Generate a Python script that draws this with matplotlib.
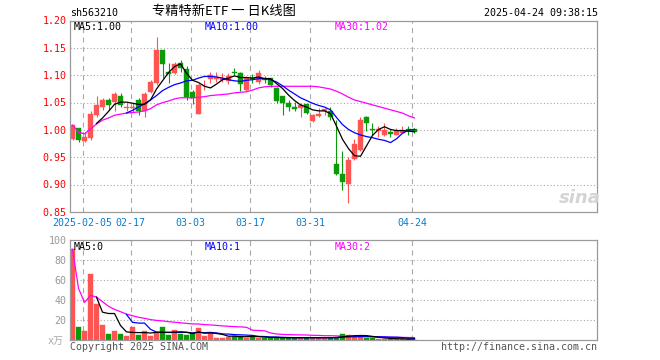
import matplotlib
matplotlib.use('Agg')
import matplotlib.pyplot as plt
import numpy as np

# ---------------- data ----------------
dates = ['01-24', '01-27',
         '02-05', '02-06', '02-07', '02-10', '02-11', '02-12', '02-13', '02-14',
         '02-17', '02-18', '02-19', '02-20', '02-21', '02-24', '02-25', '02-26', '02-27', '02-28',
         '03-03', '03-04', '03-05', '03-06', '03-07', '03-10', '03-11', '03-12', '03-13', '03-14',
         '03-17', '03-18', '03-19', '03-20', '03-21', '03-24', '03-25', '03-26', '03-27', '03-28',
         '03-31', '04-01', '04-02', '04-03', '04-07', '04-08', '04-09', '04-10', '04-11',
         '04-14', '04-15', '04-16', '04-17', '04-18', '04-21', '04-22', '04-23', '04-24']

open_ = [0.983, 1.003, 0.980, 0.986, 1.027, 1.043, 1.055, 1.052, 1.062, 1.041,
         1.041, 1.055, 1.034, 1.070, 1.086, 1.147, 1.107, 1.105, 1.122, 1.111,
         1.070, 1.030, 1.082, 1.093, 1.094, 1.091, 1.089, 1.106, 1.104, 1.073,
         1.096, 1.087, 1.095, 1.095, 1.077, 1.062, 1.049, 1.043, 1.040, 1.048,
         1.017, 1.026, 1.034, 1.034, 0.937, 0.920, 0.901, 0.947, 0.963,
         1.023, 1.001, 0.999, 0.991, 0.997, 0.990, 0.994, 1.001, 1.002]
high_ = [1.010, 1.004, 0.997, 1.035, 1.062, 1.058, 1.058, 1.070, 1.067, 1.049,
         1.050, 1.058, 1.070, 1.091, 1.171, 1.147, 1.122, 1.124, 1.128, 1.117,
         1.073, 1.086, 1.092, 1.107, 1.107, 1.105, 1.105, 1.113, 1.106, 1.098,
         1.102, 1.110, 1.099, 1.096, 1.078, 1.063, 1.055, 1.051, 1.049, 1.048,
         1.030, 1.040, 1.040, 1.042, 1.019, 0.961, 0.951, 0.983, 1.023,
         1.025, 1.012, 1.007, 1.012, 1.000, 1.004, 1.008, 1.008, 1.003]
low_ = [0.981, 0.978, 0.978, 0.982, 1.023, 1.037, 1.037, 1.035, 1.042, 1.035,
        1.033, 1.028, 1.024, 1.067, 1.083, 1.095, 1.086, 1.103, 1.107, 1.055,
        1.048, 1.029, 1.073, 1.086, 1.087, 1.087, 1.085, 1.101, 1.072, 1.071,
        1.086, 1.085, 1.086, 1.078, 1.050, 1.027, 1.034, 1.034, 1.024, 1.029,
        1.014, 1.023, 1.028, 1.018, 0.917, 0.890, 0.866, 0.946, 0.962,
        0.998, 0.990, 0.988, 0.989, 0.987, 0.990, 0.994, 0.991, 0.994]
close_ = [1.009, 0.982, 0.988, 1.029, 1.046, 1.055, 1.046, 1.066, 1.046, 1.042,
          1.042, 1.034, 1.066, 1.0875, 1.147, 1.121, 1.103, 1.121, 1.113, 1.061,
          1.058, 1.083, 1.083, 1.101, 1.097, 1.096, 1.098, 1.105, 1.084, 1.095,
          1.094, 1.105, 1.092, 1.083, 1.053, 1.050, 1.043, 1.0385, 1.046, 1.032,
          1.0275, 1.029, 1.038, 1.023, 0.919, 0.905, 0.945, 0.974, 1.018,
          1.012, 1.000, 1.001, 1.000, 0.993, 0.999, 1.000, 0.999, 0.996]

ma5 = [None, None, None, None, 1.012, 1.022, 1.034, 1.047, 1.051, 1.051,
       1.049, 1.047, 1.047, 1.055, 1.075, 1.090, 1.105, 1.116, 1.121, 1.104,
       1.091, 1.087, 1.080, 1.077, 1.084, 1.092, 1.095, 1.099, 1.096, 1.096,
       1.095, 1.097, 1.094, 1.094, 1.085, 1.076, 1.064, 1.054, 1.046, 1.042,
       1.037, 1.035, 1.035, 1.030, 1.007, 0.983, 0.966, 0.953, 0.952,
       0.971, 0.990, 1.001, 1.006, 1.001, 0.999, 0.999, 0.998, 0.997]
ma10 = [None, None, None, None, None, None, None, None, None, 1.031,
        1.036, 1.042, 1.048, 1.055, 1.063, 1.072, 1.078, 1.083, 1.086, 1.090,
        1.091, 1.095, 1.098, 1.098, 1.097, 1.095, 1.092, 1.090, 1.089, 1.091,
        1.092, 1.094, 1.094, 1.092, 1.088, 1.081, 1.073, 1.066, 1.059, 1.054,
        1.049, 1.045, 1.042, 1.037, 1.023, 1.010, 1.001, 0.995, 0.991,
        0.988, 0.986, 0.983, 0.981, 0.977, 0.984, 0.994, 1.000, 1.001]
ma30 = [1.009, 0.996, 0.993, 1.002, 1.011, 1.018, 1.022, 1.027, 1.029, 1.031,
        1.032, 1.033, 1.035, 1.039, 1.046, 1.050, 1.053, 1.057, 1.059, 1.059,
        1.059, 1.060, 1.061, 1.063, 1.064, 1.065, 1.066, 1.068, 1.069, 1.070,
        1.073, 1.077, 1.079, 1.080, 1.080, 1.080, 1.080, 1.080, 1.080, 1.080,
        1.080, 1.079, 1.077, 1.075, 1.071, 1.066, 1.060, 1.055, 1.052,
        1.049, 1.046, 1.043, 1.040, 1.037, 1.034, 1.031, 1.026, 1.022]

volume = [90.7, 12.7, 9.3, 66, 36, 15, 6, 9.3, 6, 4,
          12.7, 5, 9.3, 4, 7.3, 12.7, 5, 10, 6, 5,
          6.7, 12.3, 4, 7.3, 2.3, 2.3, 3.3, 4.3, 4.3, 2.3,
          4, 2.3, 2.3, 2.3, 2.3, 2.3, 2.3, 2.3, 2.3, 2.3,
          2.3, 2.3, 2.3, 2.3, 3, 6, 5.5, 4.5, 3.5,
          2.5, 1.8, 1.5, 1.3, 1.0, 1.1, 0.9, 0.8, 0.5]
vol_ma5 = [None, None, None, None, 42.9, 27.8, 26.5, 26.5, 14.5, 8.1,
           7.6, 7.4, 7.4, 7.0, 7.7, 7.7, 7.7, 7.8, 8.2, 7.7,
           6.5, 8.0, 6.8, 7.1, 6.5, 5.6, 3.8, 3.9, 3.3, 3.3,
           3.6, 3.4, 3.0, 2.6, 2.6, 2.3, 2.3, 2.3, 2.3, 2.3,
           2.3, 2.3, 2.3, 2.3, 2.4, 3.2, 3.8, 4.3, 4.5,
           4.4, 3.6, 2.8, 2.1, 1.6, 1.3, 1.2, 1.0, 0.9]
vol_ma10 = [None, None, None, None, None, None, None, None, None, 25.5,
            17.7, 16.9, 16.9, 10.7, 7.9, 7.6, 7.5, 7.6, 7.6, 7.7,
            7.1, 7.8, 7.3, 7.6, 7.1, 6.1, 5.9, 5.4, 5.2, 4.9,
            4.6, 3.6, 3.5, 3.0, 3.0, 2.7, 2.5, 2.3, 2.3, 2.3,
            2.3, 2.3, 2.3, 2.3, 2.4, 2.8, 3.1, 3.3, 3.4,
            3.4, 3.3, 3.2, 3.1, 2.9, 2.8, 2.4, 2.0, 1.5]
vol_ma30 = [90.7, 51.7, 37.6, 44.7, 42.9, 38.3, 33.7, 30.6, 28.3, 25.9,
            24.3, 22.7, 21.7, 20.4, 19.6, 19.1, 18.3, 17.8, 17.2, 16.6,
            16.1, 16.0, 15.4, 15.1, 14.6, 14.1, 13.7, 13.4, 13.1, 12.7,
            9.8, 9.5, 9.2, 7.1, 6.0, 5.6, 5.4, 5.2, 5.1, 5.0,
            4.7, 4.6, 4.3, 4.3, 4.1, 3.9, 3.9, 3.7, 3.6,
            3.5, 3.3, 3.0, 2.9, 2.7, 2.7, 2.6, 2.5, 2.4]

price_ticks = [1.20, 1.15, 1.10, 1.05, 1.00, 0.95, 0.90, 0.85]
price_tick_labels = ['1.20', '1.15', '1.10', '1.05', '1.00', '0.95', '0.90', '0.85']
vol_ticks = [100, 80, 60, 40, 20]
vol_tick_labels = ['100', '80', '60', '40', '20']
date_marks = ['02-05', '02-17', '03-03', '03-17', '03-31', '04-24']
date_mark_labels = ['2025-02-05', '02-17', '03-03', '03-17', '03-31', '04-24']

# ---------------- style ----------------
W, H = 660, 360
RED = '#ff5454'
GREEN = '#0a9a0a'
GRID = '#a8a8a8'
FRAME = '#9a9a9a'
MONO = 'DejaVu Sans Mono'
FS = 7.2

fig = plt.figure(figsize=(W / 100, H / 100), dpi=100)
fig.patch.set_facecolor('white')


def fx(px):
    return px / W


def fy(py):
    return 1 - py / H


L, R = 70, 597
T1, B1 = 20.7, 212
T2, B2 = 240, 340
PMIN, PMAX = 0.85, 1.20
PX_PER_BAR = 6.0
X0 = 72.5  # pixel of first candle centre

ax = fig.add_axes([fx(L), fy(B1), (R - L) / W, (B1 - T1) / H])
axv = fig.add_axes([fx(L), fy(B2), (R - L) / W, (B2 - T2) / H])

xmin = (L - X0) / PX_PER_BAR
xmax = (R - X0) / PX_PER_BAR

o = np.array(open_)
h = np.array(high_)
lo = np.array(low_)
c = np.array(close_)
x = np.arange(len(c))
up = c >= o
cols = np.where(up, RED, GREEN)

mark_idx = [dates.index(d) for d in date_marks]
grid_x = [i - 2 / PX_PER_BAR for i in mark_idx]

for a in (ax, axv):
    a.set_xlim(xmin, xmax)
    for s in a.spines.values():
        s.set_color(FRAME)
        s.set_linewidth(0.9)
    a.set_xticks([])
    a.set_yticks([])
    for gx in grid_x:
        a.axvline(gx, color=GRID, lw=0.8, ls=(0, (4.5, 4)), zorder=0)

# main price panel
ax.set_ylim(PMIN, PMAX)
for t in price_ticks[1:-1]:
    ax.axhline(t, color=GRID, lw=0.8, ls=(0, (1, 2)), zorder=0)

ax.vlines(x, lo, h, colors=cols, linewidth=0.8, zorder=2)
body_bot = np.minimum(o, c)
body_h = np.maximum(np.abs(c - o), 0.0012)
ax.bar(x, body_h, bottom=body_bot, width=0.83, color=cols, edgecolor=cols,
       linewidth=0.3, zorder=2)


def arr(v):
    return np.array([np.nan if e is None else e for e in v], dtype=float)


ax.plot(x, arr(ma30), color='#ff00ff', lw=0.9, zorder=3)
ax.plot(x, arr(ma10), color='#0000ff', lw=0.9, zorder=3)
ax.plot(x, arr(ma5), color='black', lw=0.9, zorder=4)

# price tick labels (left of the frame)
for t, lab in zip(price_ticks, price_tick_labels):
    py = B1 - (t - PMIN) / (PMAX - PMIN) * (B1 - T1)
    fig.text(fx(66.5), fy(py + 0.8), lab, ha='right', va='center',
             color='#ff0000', fontsize=FS, family=MONO)

# date labels
for gx, lab in zip(grid_x, date_mark_labels):
    fig.text(fx(X0 + gx * PX_PER_BAR), fy(222.5), lab, ha='center', va='center',
             color='#0a7ccc', fontsize=FS, family=MONO)

# watermark
fig.text(fx(580), fy(198), 'sina', ha='center', va='center', fontsize=13,
         style='italic', weight='bold', color='#d4d4d4', family='DejaVu Sans')

# MA labels main
fig.text(fx(74), fy(26.5), 'MA5:1.00', ha='left', va='center', color='black',
         fontsize=FS, family=MONO)
fig.text(fx(205), fy(26.5), 'MA10:1.00', ha='left', va='center', color='#0000ff',
         fontsize=FS, family=MONO)
fig.text(fx(335), fy(26.5), 'MA30:1.02', ha='left', va='center', color='#ff00ff',
         fontsize=FS, family=MONO)

# volume panel
axv.set_ylim(0, 100)
for t in vol_ticks[1:]:
    axv.axhline(t, color=GRID, lw=0.8, ls=(0, (1, 2)), zorder=0)
axv.bar(x, volume, width=0.83, color=cols, edgecolor=cols, linewidth=0.3, zorder=2)
axv.plot(x, arr(vol_ma30), color='#ff00ff', lw=0.9, zorder=3)
axv.plot(x, arr(vol_ma10), color='#0000ff', lw=0.9, zorder=3)
axv.plot(x, arr(vol_ma5), color='black', lw=0.9, zorder=4)

for t, lab in zip(vol_ticks, vol_tick_labels):
    fig.text(fx(66.5), fy(B2 - (B2 - T2) * t / 100 + 0.8), lab, ha='right',
             va='center', color='#999999', fontsize=FS, family=MONO)
fig.text(fx(64), fy(340.5), 'x万', ha='right', va='center', color='#aaaaaa',
         fontsize=FS, family=[MONO, 'Noto Sans CJK SC'])

fig.text(fx(74), fy(246.5), 'MA5:0', ha='left', va='center', color='black',
         fontsize=FS, family=MONO)
fig.text(fx(205), fy(246.5), 'MA10:1', ha='left', va='center', color='#0000ff',
         fontsize=FS, family=MONO)
fig.text(fx(335), fy(246.5), 'MA30:2', ha='left', va='center', color='#ff00ff',
         fontsize=FS, family=MONO)

# header
fig.text(fx(70), fy(13), 'sh563210', ha='left', va='center', color='black',
         fontsize=FS, family=MONO)
fig.text(fx(223.5), fy(11.5), '专精特新ETF 一 日K线图', ha='center', va='center',
         color='black', fontsize=9.5, family=['Noto Sans CJK SC', 'DejaVu Sans'])
fig.text(fx(597.5), fy(13), '2025-04-24 09:38:15', ha='right', va='center',
         color='black', fontsize=FS, family=MONO)

# footer
fig.text(fx(70), fy(346.5), 'Copyright 2025 SINA.COM', ha='left', va='center',
         color='#555555', fontsize=FS, family=MONO)
fig.text(fx(597), fy(346.5), 'http://finance.sina.com.cn', ha='right', va='center',
         color='#555555', fontsize=FS, family=MONO)

fig.savefig('out.png', dpi=100, facecolor='white')
